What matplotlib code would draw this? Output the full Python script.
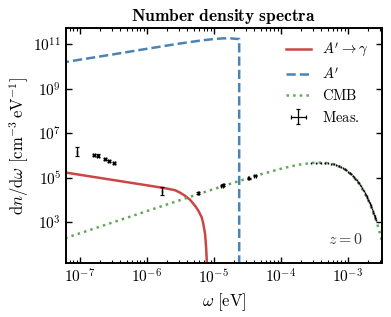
import numpy as np
import matplotlib
matplotlib.use("Agg")
import matplotlib.pyplot as plt
from matplotlib.ticker import FixedLocator, LogLocator, NullLocator, FuncFormatter

plt.rcParams["mathtext.fontset"] = "cm"
plt.rcParams["font.family"] = "serif"
plt.rcParams["font.serif"] = ["DejaVu Serif"]

# A' spectrum (log10 omega [eV], log10 dn/domega)
ap_logw = [-7.30, -7.0, -6.5, -6.0, -5.5, -5.2, -5.0, -4.85, -4.75, -4.68, -4.622, -4.622]
ap_logn = [10.16, 10.31, 10.55, 10.80, 11.04, 11.17, 11.24, 11.27, 11.27, 11.25, 11.24, -5.0]

# A' -> gamma spectrum
conv_logw = [-7.30, -7.213, -6.0, -5.73, -5.58, -5.506, -5.431, -5.356, -5.281, -5.231,
             -5.181, -5.157, -5.131, -5.116, -5.106, -5.100]
conv_logn = [5.27, 5.225, 4.65, 4.52, 4.43, 4.32, 4.18, 4.00, 3.73, 3.50,
             3.20, 2.90, 2.45, 1.85, 1.25, 0.5]

# CMB blackbody
cmb_w = [6e-8, 1e-7, 2e-7, 5e-7, 1e-6, 2e-6, 5e-6, 1e-5, 2e-5, 5e-5, 1e-4, 1.5e-4, 2e-4,
         3e-4, 4e-4, 5e-4, 6e-4, 8e-4, 1e-3, 1.2e-3, 1.5e-3, 2e-3, 2.5e-3, 2.75e-3, 3e-3,
         3.25e-3, 3.5e-3]
cmb_n = [185.8, 309.7, 619.1, 1547, 3091, 6168, 15322, 30318, 59346, 138966, 248447,
         331869, 392685, 458723, 469825, 445246, 400083, 289496, 189333, 115403, 50044,
         10575, 1966, 820.8, 336.9, 136.4, 54.6]

# radio / ARCADE measurements
meas_w = [8.91e-8, 1.607e-7, 1.845e-7, 2.35e-7, 2.70e-7, 3.21e-7, 1.66e-6, 5.87e-6,
          1.315e-5, 1.39e-5, 3.30e-5, 4.15e-5]
meas_n = [1.48e6, 1.05e6, 9.55e5, 6.9e5, 5.6e5, 4.4e5, 2.5e4, 2.0e4, 4.27e4, 4.57e4,
          9.3e4, 1.2e5]
meas_dex = [0.19, 0.06, 0.07, 0.05, 0.05, 0.05, 0.17, 0.04, 0.03, 0.03, 0.03, 0.03]
meas_xfrac = [0, 0.03, 0.03, 0.03, 0.03, 0.03, 0, 0.03, 0.03, 0.03, 0.03, 0.03]

# FIRAS (frequency in cm^-1)
firas_nu = [2.27, 2.72, 3.18, 3.63, 4.08, 4.54, 4.99, 5.45, 5.90, 6.35, 6.81, 7.26, 7.71,
            8.17, 8.62, 9.08, 9.53, 9.98, 10.44, 10.89, 11.34, 11.80, 12.25, 12.71, 13.16,
            13.61, 14.07, 14.52, 14.97, 15.43, 15.88, 16.34, 16.79, 17.24, 17.70, 18.15,
            18.61, 19.06, 19.51, 19.97, 20.42, 20.87, 21.33]
firas_n = [4.514e5, 4.682e5, 4.703e5, 4.608e5, 4.429e5, 4.183e5, 3.902e5, 3.592e5, 3.277e5,
           2.965e5, 2.654e5, 2.364e5, 2.093e5, 1.836e5, 1.607e5, 1.396e5, 1.210e5, 1.045e5,
           8.960e4, 7.679e4, 6.561e4, 5.570e4, 4.731e4, 3.993e4, 3.375e4, 2.846e4, 2.386e4,
           2.003e4, 1.679e4, 1.399e4, 1.168e4, 9.703e3, 8.078e3, 6.716e3, 5.553e3, 4.604e3,
           3.797e3, 3.141e3, 2.595e3, 2.132e3, 1.758e3, 1.448e3, 1.187e3]

y_ticks = [1e3, 1e5, 1e7, 1e9, 1e11]

red = "#cc4646"
blue = "#4a84b5"
green = "#62a85a"

fig = plt.figure(figsize=(3.91, 3.17), dpi=100)
ax = fig.add_axes([0.169, 0.170, 0.807, 0.742])

ax.plot(10 ** np.array(conv_logw), 10 ** np.array(conv_logn), color=red, lw=1.8,
        label=r"$A'\to\gamma$")
ax.plot(10 ** np.array(ap_logw), 10 ** np.array(ap_logn), color=blue, lw=1.8, ls="--",
        label=r"$A'$")
ax.plot(cmb_w, cmb_n, color=green, lw=1.8, ls=":", label=r"$\mathrm{CMB}$")

mw = np.array(meas_w)
mn = np.array(meas_n)
md = np.array(meas_dex)
mx = np.array(meas_xfrac)
ax.errorbar(mw, mn, xerr=[mw * mx, mw * mx], yerr=[mn * (1 - 10 ** -md), mn * (10 ** md - 1)],
            fmt="none", ecolor="k", elinewidth=0.9, capsize=1.6, capthick=0.9,
            label=r"$\mathrm{Meas.}$", zorder=4)

fw = np.array(firas_nu) * 1.23984e-4
fn = np.array(firas_n)
ax.errorbar(fw, fn, xerr=0.012 * fw, yerr=[fn * 0.1, fn * 0.12], fmt="none", ecolor="k",
            elinewidth=1.0, capsize=0, zorder=4)

ax.set_xscale("log")
ax.set_yscale("log")
ax.set_xlim(6.2e-8, 3.2e-3)
ax.set_ylim(14, 5.5e11)

ax.yaxis.set_major_locator(FixedLocator(y_ticks))
ax.yaxis.set_minor_locator(NullLocator())
ax.xaxis.set_major_locator(LogLocator(base=10.0, numticks=20))
ax.xaxis.set_minor_locator(LogLocator(base=10.0, subs=np.arange(2, 10), numticks=20))
fmt = FuncFormatter(lambda v, p: r"$10^{%d}$" % int(round(np.log10(v))))
ax.xaxis.set_major_formatter(fmt)
ax.yaxis.set_major_formatter(fmt)

ax.tick_params(which="both", direction="in", top=True, right=True, labelsize=11, width=1.0)
ax.tick_params(which="major", length=4)
ax.tick_params(which="minor", length=2.2, width=0.8)
for s in ax.spines.values():
    s.set_linewidth(1.4)

ax.set_title(r"$\mathbf{Number\ density\ spectra}$", fontsize=12.5, pad=5)
ax.set_xlabel(r"$\omega\ [\mathrm{eV}]$", fontsize=12, labelpad=4)
ax.set_ylabel(r"$\mathrm{d}n/\mathrm{d}\omega\ [\mathrm{cm}^{-3}\,\mathrm{eV}^{-1}]$",
              fontsize=12, labelpad=2)

ax.text(0.94, 0.065, r"$z=0$", transform=ax.transAxes, ha="right", va="bottom",
        fontsize=11.5, color="#333333")

ax.legend(loc="upper right", frameon=False, fontsize=10.5, handlelength=1.7,
          borderaxespad=0.5, labelspacing=0.45)

fig.savefig("out.png", dpi=100)
